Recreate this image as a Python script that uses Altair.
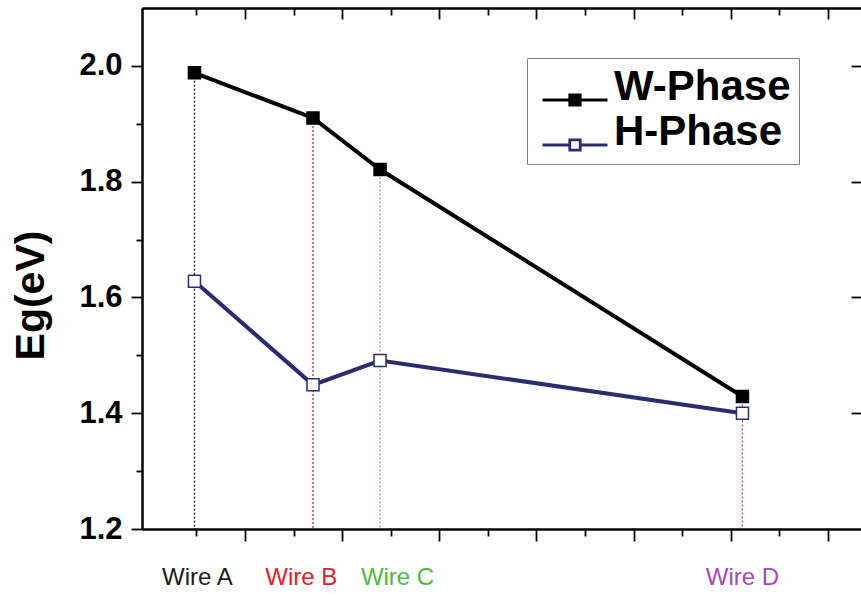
import altair as alt
import pandas as pd

# ---- data ----
wires = ["Wire A", "Wire B", "Wire C", "Wire D"]
wire_x = [0.48, 1.70, 2.39, 6.12]          # position of each wire on the x scale
label_x = [0.51, 1.58, 2.57, 6.12]         # centre of each wire label
w_phase = [1.988, 1.910, 1.821, 1.429]
h_phase = [1.628, 1.449, 1.491, 1.400]
phases = ["W-Phase", "H-Phase"]
wire_colors = ["#1a1a1a", "#e3202c", "#4fb83f", "#a44ab4"]
phase_colors = ["#000000", "#2a2c6e"]
phase_fills = ["#000000", "#ffffff"]
x_ticks = [0.5, 1, 1.5, 2, 2.5, 3, 3.5, 4, 4.5, 5, 5.5, 6, 6.5, 7]
y_ticks = [1.2, 1.3, 1.4, 1.5, 1.6, 1.7, 1.8, 1.9, 2.0]
y_ticks_right = [1.4, 1.6, 1.8, 2.0]

pts = pd.DataFrame(
    [{"wire": w, "x": x, "phase": phases[0], "value": v} for w, x, v in zip(wires, wire_x, w_phase)]
    + [{"wire": w, "x": x, "phase": phases[1], "value": v} for w, x, v in zip(wires, wire_x, h_phase)]
)
rules = pd.DataFrame({"wire": wires, "x": wire_x, "w": w_phase})
labels = pd.DataFrame({"wire": wires, "lx": label_x})

W, H = 719, 521
FONT = "Liberation Sans"

xs = alt.Scale(domain=[-0.06, 7.34], nice=False, zero=False)
ys = alt.Scale(domain=[1.2, 2.1], nice=False, zero=False)
wire_scale = alt.Scale(domain=wires, range=wire_colors)
phase_stroke = alt.Scale(domain=phases, range=phase_colors)
phase_fill = alt.Scale(domain=phases, range=phase_fills)

x_minor = {"condition": {"test": "datum.value % 1 != 0", "value": [7, 40]}, "value": [20, 0]}
y_minor = {"condition": {"test": "round(datum.value * 10) % 2 == 1", "value": [6, 40]}, "value": [20, 0]}

x_bottom = alt.Axis(orient="bottom", values=x_ticks, labels=False, title=None, grid=False,
                    domainColor="black", domainWidth=2.5, tickColor="black", tickWidth=1.8,
                    tickSize=12, tickDash=x_minor)
y_left = alt.Axis(orient="left", values=y_ticks, title="Eg(eV)", grid=False,
                  domainColor="black", domainWidth=2.5, tickColor="black", tickWidth=1.8,
                  tickSize=11, tickDash=y_minor,
                  labelExpr="round(datum.value * 10) % 2 == 0 ? format(datum.value, '.1f') : ''",
                  labelFont=FONT, labelFontWeight="bold", labelFontSize=31, labelColor="black",
                  labelPadding=9, labelOverlap=False,
                  titleFont=FONT, titleFontSize=41, titleFontWeight="bold", titleColor="black",
                  titleAngle=270, titleAlign="center", titleBaseline="alphabetic",
                  titleX=-99, titleY=287)
x_top = alt.Axis(orient="bottom", offset=-H, values=x_ticks, labels=False, title=None, grid=False,
                 domainColor="black", domainWidth=2.5, tickColor="black", tickWidth=1.8,
                 tickSize=11, tickDash=x_minor)
y_right = alt.Axis(orient="left", offset=-W, values=y_ticks_right, labels=False, title=None,
                   grid=False, domain=False, tickColor="black", tickWidth=1.8, tickSize=10)

legend = alt.Legend(
    title=None, orient="none", legendX=385, legendY=50, direction="vertical",
    symbolType="M-1,0H-0.16M0.16,0H1M-0.16,-0.16H0.16V0.16H-0.16Z",
    symbolSize=4225, symbolStrokeWidth=2.8, symbolOffset=6,
    labelFont=FONT, labelFontWeight="bold", labelFontSize=42, labelColor="black",
    labelBaseline="alphabetic", labelOffset=5, labelLimit=400,
    padding=8, rowPadding=-17, strokeColor="#808080", fillColor="white",
)

drop = alt.Chart(rules).mark_rule(strokeDash=[2, 2], strokeWidth=1.3).encode(
    x=alt.X("x:Q", scale=xs, axis=x_bottom),
    y=alt.Y("w:Q", scale=ys, axis=y_left),
    y2=alt.Y2(datum=1.2),
    color=alt.Color("wire:N", scale=wire_scale, legend=None),
)

lines = alt.Chart(pts).mark_line(strokeWidth=4).encode(
    x=alt.X("x:Q", scale=xs, axis=None),
    y=alt.Y("value:Q", scale=ys, axis=None),
    stroke=alt.Stroke("phase:N", scale=phase_stroke, legend=legend),
    order="x:Q",
)

points = alt.Chart(pts).mark_point(shape="square", size=144, strokeWidth=1.5,
                                   opacity=1, fillOpacity=1).encode(
    x=alt.X("x:Q", scale=xs, axis=x_top),
    y=alt.Y("value:Q", scale=ys, axis=y_right),
    stroke=alt.Stroke("phase:N", scale=phase_stroke, legend=legend),
    fill=alt.Fill("phase:N", scale=phase_fill, legend=legend),
)

texts = alt.Chart(labels).mark_text(font=FONT, fontSize=24, baseline="alphabetic",
                                    align="center", dy=56).encode(
    x=alt.X("lx:Q", scale=xs, axis=None),
    y=alt.Y(datum=1.2, scale=ys, axis=None),
    text="wire:N",
    color=alt.Color("wire:N", scale=wire_scale, legend=None),
)

chart = (
    alt.layer(drop, lines, points, texts)
    .resolve_axis(x="independent", y="independent")
    .properties(
        width=W, height=H,
        autosize=alt.AutoSizeParams(type="none"),
        padding={"left": 142, "top": 8, "right": 0, "bottom": 68},
        background="white",
    )
    .configure_view(stroke=None)
    .configure(font=FONT)
)

chart.save("out.html", embed_options={"renderer": "svg", "actions": False})
